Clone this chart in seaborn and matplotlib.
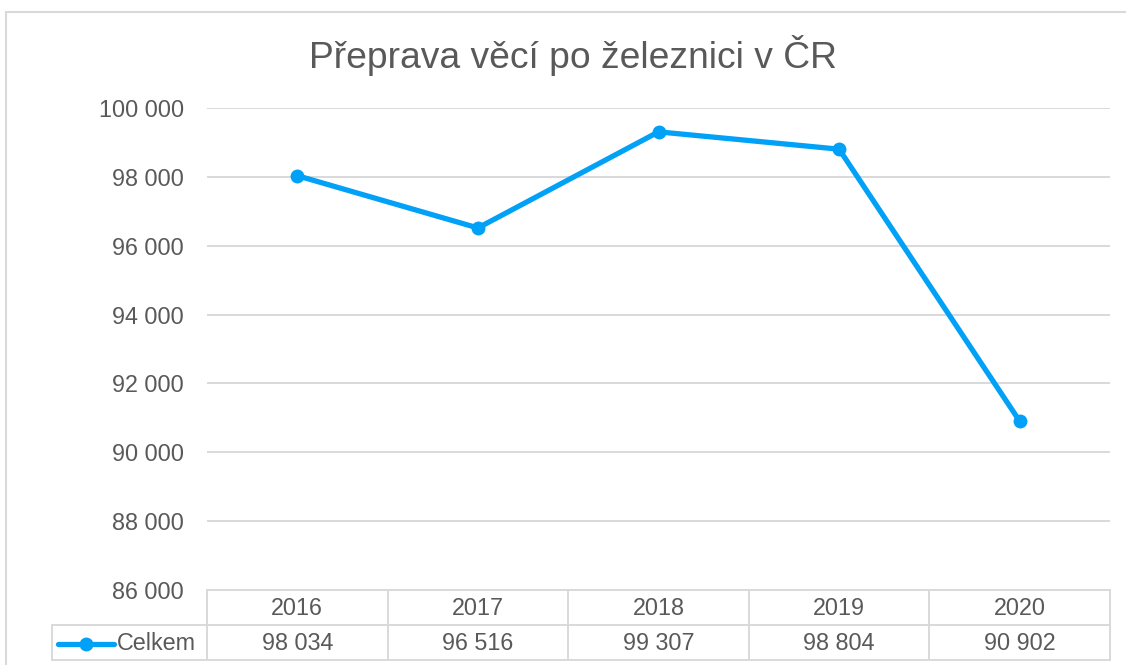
import matplotlib
matplotlib.use("Agg")
import matplotlib.pyplot as plt
import seaborn as sns
import pandas as pd
from matplotlib.lines import Line2D
from matplotlib.patches import Rectangle
import matplotlib.transforms as mtrans

years = ["2016", "2017", "2018", "2019", "2020"]
values = [98034, 96516, 99307, 98804, 90902]
series_name = "Celkem"
title = "Přeprava věcí po železnici v ČR"
y_ticks = [86000, 88000, 90000, 92000, 94000, 96000, 98000, 100000]

def fmt(v):
    return f"{int(v):,}".replace(",", " ")

sns.set_theme(style="white")
plt.rcParams['font.family'] = ['Liberation Sans', 'DejaVu Sans']

W, H = 1126, 665
fig = plt.figure(figsize=(W / 100, H / 100), dpi=100)
L, R, T, B = 207, 1110, 108, 590
ax = fig.add_axes([L / W, 1 - B / H, (R - L) / W, (B - T) / H])

TXT = "#595959"
GRID = "#D9D9D9"
BLUE = "#00A1F6"
FS = 16.8

df = pd.DataFrame({"pos": range(len(years)), "value": values})
sns.lineplot(data=df, x="pos", y="value", ax=ax, color=BLUE, linewidth=3.8,
             marker="o", markersize=10, markeredgewidth=0)

ax.set_xlim(-0.5, len(years) - 0.5)
ax.set_ylim(y_ticks[0], y_ticks[-1])
ax.set_yticks(y_ticks)
ax.set_yticklabels([fmt(v) for v in y_ticks], fontsize=FS, color=TXT)
ax.tick_params(axis="y", length=0, pad=16.5)
ax.set_xticks([])
ax.set_xlabel("")
ax.set_ylabel("")
for s in ax.spines.values():
    s.set_visible(False)
for v in y_ticks[1:]:
    ax.axhline(v, color=GRID, linewidth=1.4, zorder=0)

# chart frame
fig.patches.append(Rectangle((6 / W, -0.2), 1.5, 1 - 12 / H + 0.2,
                             transform=fig.transFigure, fill=False,
                             edgecolor=GRID, linewidth=1.5, zorder=0))

fig.text(573 / W, 1 - 55 / H, title, ha="center", va="center",
         fontsize=26.8, color=TXT)

# data table
def fx(px):
    return px / W
def fy(py):
    return 1 - py / H

lw = 1.4
y0, y1, y2 = 590, 625, 660
lines = [
    ((L, R), (y0, y0)),
    ((52, R), (y1, y1)),
    ((52, R), (y2, y2)),
    ((52, 52), (y1, y2)),
]
n = len(years)
colw = (R - L) / n
for i in range(n + 1):
    x = L + i * colw
    lines.append(((x, x), (y0, y2)))
for (xs, ys) in lines:
    fig.add_artist(Line2D([fx(xs[0]), fx(xs[1])], [fy(ys[0]), fy(ys[1])],
                          transform=fig.transFigure, color=GRID, linewidth=lw))

blend = mtrans.blended_transform_factory(ax.transData, fig.transFigure)
for i, (yr, v) in enumerate(zip(years, values)):
    ax.text(i, fy((y0 + y1) / 2 + 1), yr, transform=blend, ha="center",
            va="center", fontsize=FS, color=TXT, clip_on=False)
    ax.text(i, fy((y1 + y2) / 2 + 1), fmt(v), transform=blend, ha="center",
            va="center", fontsize=FS, color=TXT, clip_on=False)

# legend key in table
ym = fy((y1 + y2) / 2 + 1)
fig.add_artist(Line2D([fx(58), fx(114)], [ym, ym], transform=fig.transFigure,
                      color=BLUE, linewidth=3.8))
fig.add_artist(Line2D([fx(86)], [ym], transform=fig.transFigure, color=BLUE,
                      marker="o", markersize=10, markeredgewidth=0))
fig.text(fx(117), ym, series_name, ha="left", va="center", fontsize=FS,
         color=TXT)

fig.savefig("out.png", dpi=100, facecolor="white")
